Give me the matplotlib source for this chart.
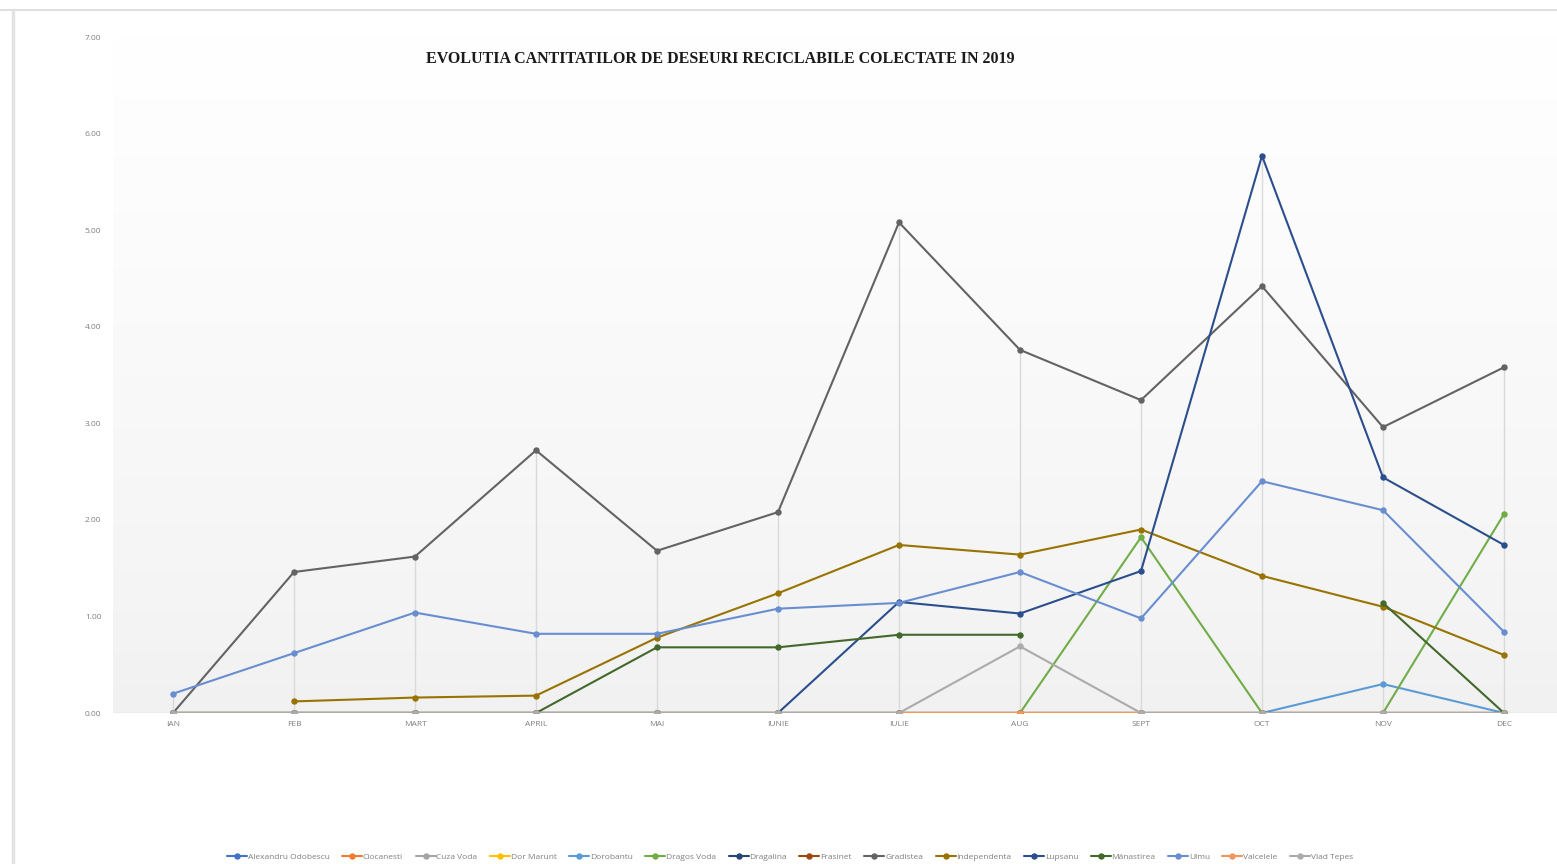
import numpy as np
import matplotlib
matplotlib.use("Agg")
import matplotlib.pyplot as plt
from matplotlib.lines import Line2D

nan = np.nan

months = ["IAN", "FEB", "MART", "APRIL", "MAI", "IUNIE", "IULIE", "AUG", "SEPT", "OCT", "NOV", "DEC"]

alexandru_odobescu = [0, 0, 0, 0, 0, 0, 0, 0, 0, 0, 0, 0]
ciocanesti = [0, 0, 0, 0, 0, 0, 0, 0, 0, 0, 0, 0]
cuza_voda = [0, 0, 0, 0, 0, 0, 0, 0, 0, 0, 0, 0]
dor_marunt = [0, 0, 0, 0, 0, 0, 0, 0, 0, 0, 0, 0]
dorobantu = [0, 0, 0, 0, 0, 0, 0, 0, 0, 0, 0.30, 0]
dragos_voda = [0, 0, 0, 0, 0, 0, 0, 0, 1.82, 0, 0, 2.06]
dragalina = [0, 0, 0, 0, 0, 0, 0, 0, 0, 0, 0, 0]
frasinet = [0, 0, 0, 0, 0, 0, 0, 0, 0, 0, 0, 0]
gradistea = [0, 1.46, 1.62, 2.72, 1.68, 2.08, 5.08, 3.76, 3.24, 4.42, 2.96, 3.58]
independenta = [nan, 0.12, 0.16, 0.18, 0.78, 1.24, 1.74, 1.64, 1.90, 1.42, 1.10, 0.60]
lupsanu = [0, 0, 0, 0, 0, 0, 1.15, 1.03, 1.47, 5.77, 2.44, 1.74]
manastirea = [nan, nan, nan, 0, 0.68, 0.68, 0.81, 0.81, nan, nan, 1.14, 0]
ulmu = [0.20, 0.62, 1.04, 0.82, 0.82, 1.08, 1.14, 1.46, 0.98, 2.40, 2.10, 0.84]
valcelele = [0, 0, 0, 0, 0, 0, 0, 0, 0, 0, 0, 0]
vlad_tepes = [0, 0, 0, 0, 0, 0, 0, 0.69, 0, 0, 0, 0]

series_names = ["Alexandru Odobescu", "Ciocanesti", "Cuza Voda", "Dor Marunt", "Dorobantu",
                "Dragos Voda", "Dragalina", "Frasinet", "Gradistea", "Independenta",
                "Lupsanu", "Mânastirea", "Ulmu", "Valcelele", "Vlad Tepes"]
series_values = [alexandru_odobescu, ciocanesti, cuza_voda, dor_marunt, dorobantu,
                 dragos_voda, dragalina, frasinet, gradistea, independenta,
                 lupsanu, manastirea, ulmu, valcelele, vlad_tepes]
series_colors = ["#4472C4", "#ED7D31", "#A5A5A5", "#FFC000", "#5B9BD5",
                 "#70AD47", "#264478", "#9E480E", "#636363", "#997300",
                 "#2B4F8C", "#43682B", "#698ED0", "#F1975A", "#ABABAB"]

W, H = 1557, 864
fig = plt.figure(figsize=(W / 100, H / 100), dpi=100)

# sheet-like frame lines
fig.add_artist(Line2D([0, 1], [1 - 10 / H, 1 - 10 / H], color="#d9d9d9", lw=1.2))
fig.add_artist(Line2D([13.5 / W, 13.5 / W], [0, 1 - 10 / H], color="#e3e3e3", lw=2.5))

ax = fig.add_axes([112.5 / W, 151 / H, 1452 / W, 676 / H])
x = np.arange(len(months))
ax.set_xlim(-0.5, len(months) - 0.5)
ax.set_ylim(0, 7)

# plot area gradient (white top -> light grey bottom)
grad = np.linspace(0, 1, 256).reshape(-1, 1)
c_top = np.array([1.0, 1.0, 1.0])
c_bot = np.array([0.945, 0.945, 0.945])
img = c_bot + (c_top - c_bot) * grad ** 0.8
ax.imshow(img[:, None, :].repeat(2, axis=1), extent=[-0.5, len(months) - 0.5, 0, 7],
          origin="lower", aspect="auto", zorder=0)

# drop lines from the highest value to the axis
data = np.array(series_values, dtype=float)
tops = np.nanmax(data, axis=0)
ax.vlines(x, 0, tops, color="#d9d9d9", lw=1.0, zorder=1)
ax.axhline(0, color="#d9d9d9", lw=1.0, zorder=1)

for name, vals, col in zip(series_names, series_values, series_colors):
    ax.plot(x, vals, color=col, lw=1.5, marker="o", markersize=3.6, label=name,
            zorder=3, solid_capstyle="round")

for s in ax.spines.values():
    s.set_visible(False)
ax.set_xticks(x)
ax.set_xticklabels(months)
ax.set_yticks(np.arange(0, 8))
ax.set_yticklabels([f"{v:.2f}" for v in range(8)])
ax.tick_params(axis="both", length=0, labelsize=6, labelcolor="#7f7f7f")
ax.tick_params(axis="x", pad=6)
ax.tick_params(axis="y", pad=8)
for lbl in ax.get_xticklabels() + ax.get_yticklabels():
    lbl.set_family("Open Sans")

fig.text(720 / W, 1 - 59 / H, "EVOLUTIA CANTITATILOR DE DESEURI RECICLABILE COLECTATE IN 2019",
         ha="center", va="center", family="Liberation Serif", fontweight="bold",
         fontsize=11.5, color="#1a1a1a")

handles, labels = ax.get_legend_handles_labels()
fig.legend(handles, labels, loc="center", bbox_to_anchor=(790 / W, 1 - 857 / H),
           ncol=len(series_names), frameon=False, handlelength=2.4,
           handletextpad=0.1, columnspacing=1.5, markerscale=1.0,
           prop={"family": "Open Sans", "size": 6}, labelcolor="#7f7f7f")

fig.savefig("out.png", dpi=100, facecolor="white")
